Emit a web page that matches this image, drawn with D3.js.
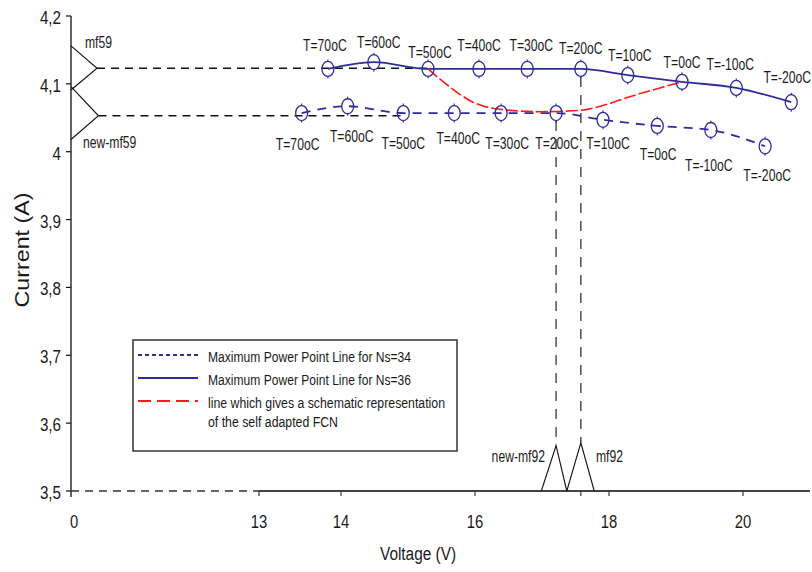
<!DOCTYPE html>
<html><head><meta charset="utf-8">
<script src="https://cdn.jsdelivr.net/npm/d3@7"></script>
<style>
body{margin:0;background:#fff}
svg{display:block}
text{font-family:"Liberation Sans",Arial,Helvetica,sans-serif;fill:#1a1a1a}
</style>
</head><body>
<svg id="chart" width="812" height="572"></svg>
<script>
// ---------- data ----------
const tempLabels = ["T=70oC","T=60oC","T=50oC","T=40oC","T=30oC","T=20oC","T=10oC","T=0oC","T=-10oC","T=-20oC"];
const voltageNs36 = [13.84,14.49,15.30,16.06,16.78,17.58,18.28,19.09,19.90,20.72];
const currentNs36 = [4.122,4.132,4.122,4.122,4.122,4.122,4.113,4.103,4.094,4.073];
const voltageNs34 = [13.52,14.10,14.93,15.69,16.39,17.21,17.91,18.72,19.52,20.33];
const currentNs34 = [4.057,4.067,4.057,4.057,4.057,4.057,4.047,4.038,4.032,4.008];
const fcnVoltage = [15.30,15.63,15.97,16.33,16.97,17.57,17.87,18.31,18.76,19.09];
const fcnCurrent = [4.122,4.095,4.073,4.063,4.059,4.061,4.067,4.081,4.094,4.103];
const mf59Voltage = [0,1.8,0];
const mf59Current = [4.156,4.123,4.091];
const newMf59Voltage = [0,1.9,0];
const newMf59Current = [4.096,4.053,4.018];
const mf92Voltage = [17.37,17.58,17.78];
const mf92Current = [3.5,3.571,3.5];
const newMf92Voltage = [16.99,17.21,17.37];
const newMf92Current = [3.5,3.567,3.5];
const xTicks = [0,13,14,16,18,20];
const yTicks = [3.5,3.6,3.7,3.8,3.9,4.0,4.1,4.2];
const legendLabels = ["Maximum Power Point Line for Ns=34","Maximum Power Point Line for Ns=36","line which gives a schematic representation","of the self adapted FCN"];

// ---------- layout (label nudges, px) ----------
const upperDx = [-3,5,2,0,4,0,2,0,-6,-4];
const upperDy = [-18,-14,-11,-18,-18,-15,-14,-14,-18,-19];
const lowerDx = [-4,4,0,4,6,1,5,1,-2,2];
const lowerDy = [37,36,36,31,36,36,29,34,41,35];

const BLUE = "#2d2d9c", RED = "#ff1a1a", BLACK = "#111";

const svg = d3.select("#chart");
const x = d3.scaleLinear().domain([0,13,14,21]).range([71,259,341,810]);
const y = d3.scaleLinear().domain([3.5,4.2]).range([491,16]);

function txt(px, py, s, size, sx, anchor){
  return svg.append("text")
    .attr("transform", `translate(${px},${py}) scale(${sx},1)`)
    .attr("text-anchor", anchor)
    .attr("font-size", size)
    .text(s);
}
const zip = (a,b) => a.map((v,i)=>[v,b[i]]);

// ---------- axes ----------
svg.append("line").attr("x1",x(0)).attr("x2",x(0)).attr("y1",y(4.2)).attr("y2",y(3.5)+6)
  .attr("stroke",BLACK).attr("stroke-width",1.3);
yTicks.forEach(t=>{
  svg.append("line").attr("x1",x(0)-5).attr("x2",x(0)).attr("y1",y(t)).attr("y2",y(t))
    .attr("stroke",BLACK).attr("stroke-width",1.2);
  const lab = (Math.round(t*10)/10).toString().replace(".", ",");
  txt(61, y(t)+8, lab, 19, 0.8, "end");
});
svg.append("line").attr("x1",x(0)).attr("x2",x(13)).attr("y1",y(3.5)).attr("y2",y(3.5))
  .attr("stroke","#333").attr("stroke-width",1.6).attr("stroke-dasharray","8,6");
svg.append("line").attr("x1",x(13)).attr("x2",810).attr("y1",y(3.5)).attr("y2",y(3.5))
  .attr("stroke","#444").attr("stroke-width",2);
xTicks.forEach(t=>{
  if(t>0){
    svg.append("line").attr("x1",x(t)).attr("x2",x(t)).attr("y1",y(3.5)).attr("y2",y(3.5)+5)
      .attr("stroke","#333").attr("stroke-width",1.2);
  }
  txt(x(t)+(t===0?3:0), 528, String(t), 19, 0.78, "middle");
});
txt(418, 560, "Voltage (V)", 19, 0.81, "middle");
svg.append("text").attr("transform","translate(29,250) rotate(-90)")
  .attr("text-anchor","middle").attr("font-size",21).attr("textLength",115)
  .attr("lengthAdjust","spacingAndGlyphs").attr("fill","#333").text("Current (A)");

// ---------- reference dashed lines ----------
svg.append("line").attr("x1",x(mf59Voltage[1])).attr("x2",x(voltageNs36[2]))
  .attr("y1",y(mf59Current[1])).attr("y2",y(mf59Current[1]))
  .attr("stroke",BLACK).attr("stroke-width",1.3).attr("stroke-dasharray","8,6");
svg.append("line").attr("x1",x(newMf59Voltage[1])).attr("x2",x(voltageNs34[2]))
  .attr("y1",y(newMf59Current[1])).attr("y2",y(newMf59Current[1]))
  .attr("stroke",BLACK).attr("stroke-width",1.3).attr("stroke-dasharray","8,6");
svg.append("line").attr("x1",x(voltageNs36[5])).attr("x2",x(mf92Voltage[1]))
  .attr("y1",y(currentNs36[5])+8).attr("y2",y(mf92Current[1]))
  .attr("stroke",BLACK).attr("stroke-width",1.1).attr("stroke-dasharray","10,8");
svg.append("line").attr("x1",x(voltageNs34[5])).attr("x2",x(newMf92Voltage[1]))
  .attr("y1",y(currentNs34[5])+8).attr("y2",y(newMf92Current[1]))
  .attr("stroke",BLACK).attr("stroke-width",1.1).attr("stroke-dasharray","10,8");
svg.append("line").attr("x1",x(mf92Voltage[1])).attr("x2",x(mf92Voltage[1]))
  .attr("y1",y(3.5)).attr("y2",y(3.5)+5).attr("stroke",BLACK).attr("stroke-width",1);

// ---------- membership triangles ----------
const poly = d3.line().x(d=>x(d[0])).y(d=>y(d[1]));
[[mf59Voltage,mf59Current],[newMf59Voltage,newMf59Current],[mf92Voltage,mf92Current],[newMf92Voltage,newMf92Current]]
  .forEach(([vv,cc])=>{
    svg.append("path").attr("d",poly(zip(vv,cc))).attr("fill","none")
      .attr("stroke",BLACK).attr("stroke-width",1.1);
  });
txt(85, 48, "mf59", 16, 0.76, "start");
txt(83, 148, "new-mf59", 16, 0.76, "start");
txt(545, 462, "new-mf92", 16, 0.76, "end");
txt(596, 462, "mf92", 16, 0.76, "start");

// ---------- series ----------
const curve = d3.line().x(d=>x(d[0])).y(d=>y(d[1])).curve(d3.curveMonotoneX);
svg.append("path").attr("d",curve(zip(voltageNs36,currentNs36))).attr("fill","none")
  .attr("stroke",BLUE).attr("stroke-width",1.8);
svg.append("path").attr("d",curve(zip(voltageNs34,currentNs34))).attr("fill","none")
  .attr("stroke",BLUE).attr("stroke-width",1.8).attr("stroke-dasharray","9,7");
svg.append("path").attr("d",curve(zip(fcnVoltage,fcnCurrent))).attr("fill","none")
  .attr("stroke",RED).attr("stroke-width",1.6).attr("stroke-dasharray","12,3");

function markers(vv,cc){
  vv.forEach((v,i)=>{
    const cx=x(v), cy=y(cc[i]);
    svg.append("ellipse").attr("cx",cx).attr("cy",cy).attr("rx",6).attr("ry",7.5)
      .attr("fill","none").attr("stroke",BLUE).attr("stroke-width",1.3);
    svg.append("line").attr("x1",cx).attr("x2",cx).attr("y1",cy-9.5).attr("y2",cy-7)
      .attr("stroke",BLUE).attr("stroke-width",1.1);
    svg.append("line").attr("x1",cx).attr("x2",cx).attr("y1",cy+7).attr("y2",cy+9.5)
      .attr("stroke",BLUE).attr("stroke-width",1.1);
  });
}
markers(voltageNs36,currentNs36);
markers(voltageNs34,currentNs34);

tempLabels.forEach((s,i)=>{
  txt(x(voltageNs36[i])+upperDx[i], y(currentNs36[i])+upperDy[i], s, 16, 0.76, "middle");
  txt(x(voltageNs34[i])+lowerDx[i], y(currentNs34[i])+lowerDy[i], s, 16, 0.76, "middle");
});

// ---------- legend ----------
svg.append("rect").attr("x",133).attr("y",340).attr("width",324).attr("height",111)
  .attr("fill","#fff").attr("stroke","#333").attr("stroke-width",1.5);
const legendStyles = [
  {stroke:BLUE, dash:"4,3"},
  {stroke:BLUE, dash:null},
  {stroke:RED, dash:"13,6"}
];
const legendRowY = [355,378,401];
legendStyles.forEach((st,i)=>{
  const l = svg.append("line").attr("x1",138).attr("x2",198).attr("y1",legendRowY[i]).attr("y2",legendRowY[i])
    .attr("stroke",st.stroke).attr("stroke-width",1.8);
  if(st.dash) l.attr("stroke-dasharray",st.dash);
});
const legendTextY = [362,385,408,427];
const legendTextW = [203,203,237,130];
legendLabels.forEach((s,i)=>{
  svg.append("text").attr("x",208).attr("y",legendTextY[i]).attr("font-size",14)
    .attr("textLength",legendTextW[i]).attr("lengthAdjust","spacingAndGlyphs").text(s);
});
</script>
</body></html>
